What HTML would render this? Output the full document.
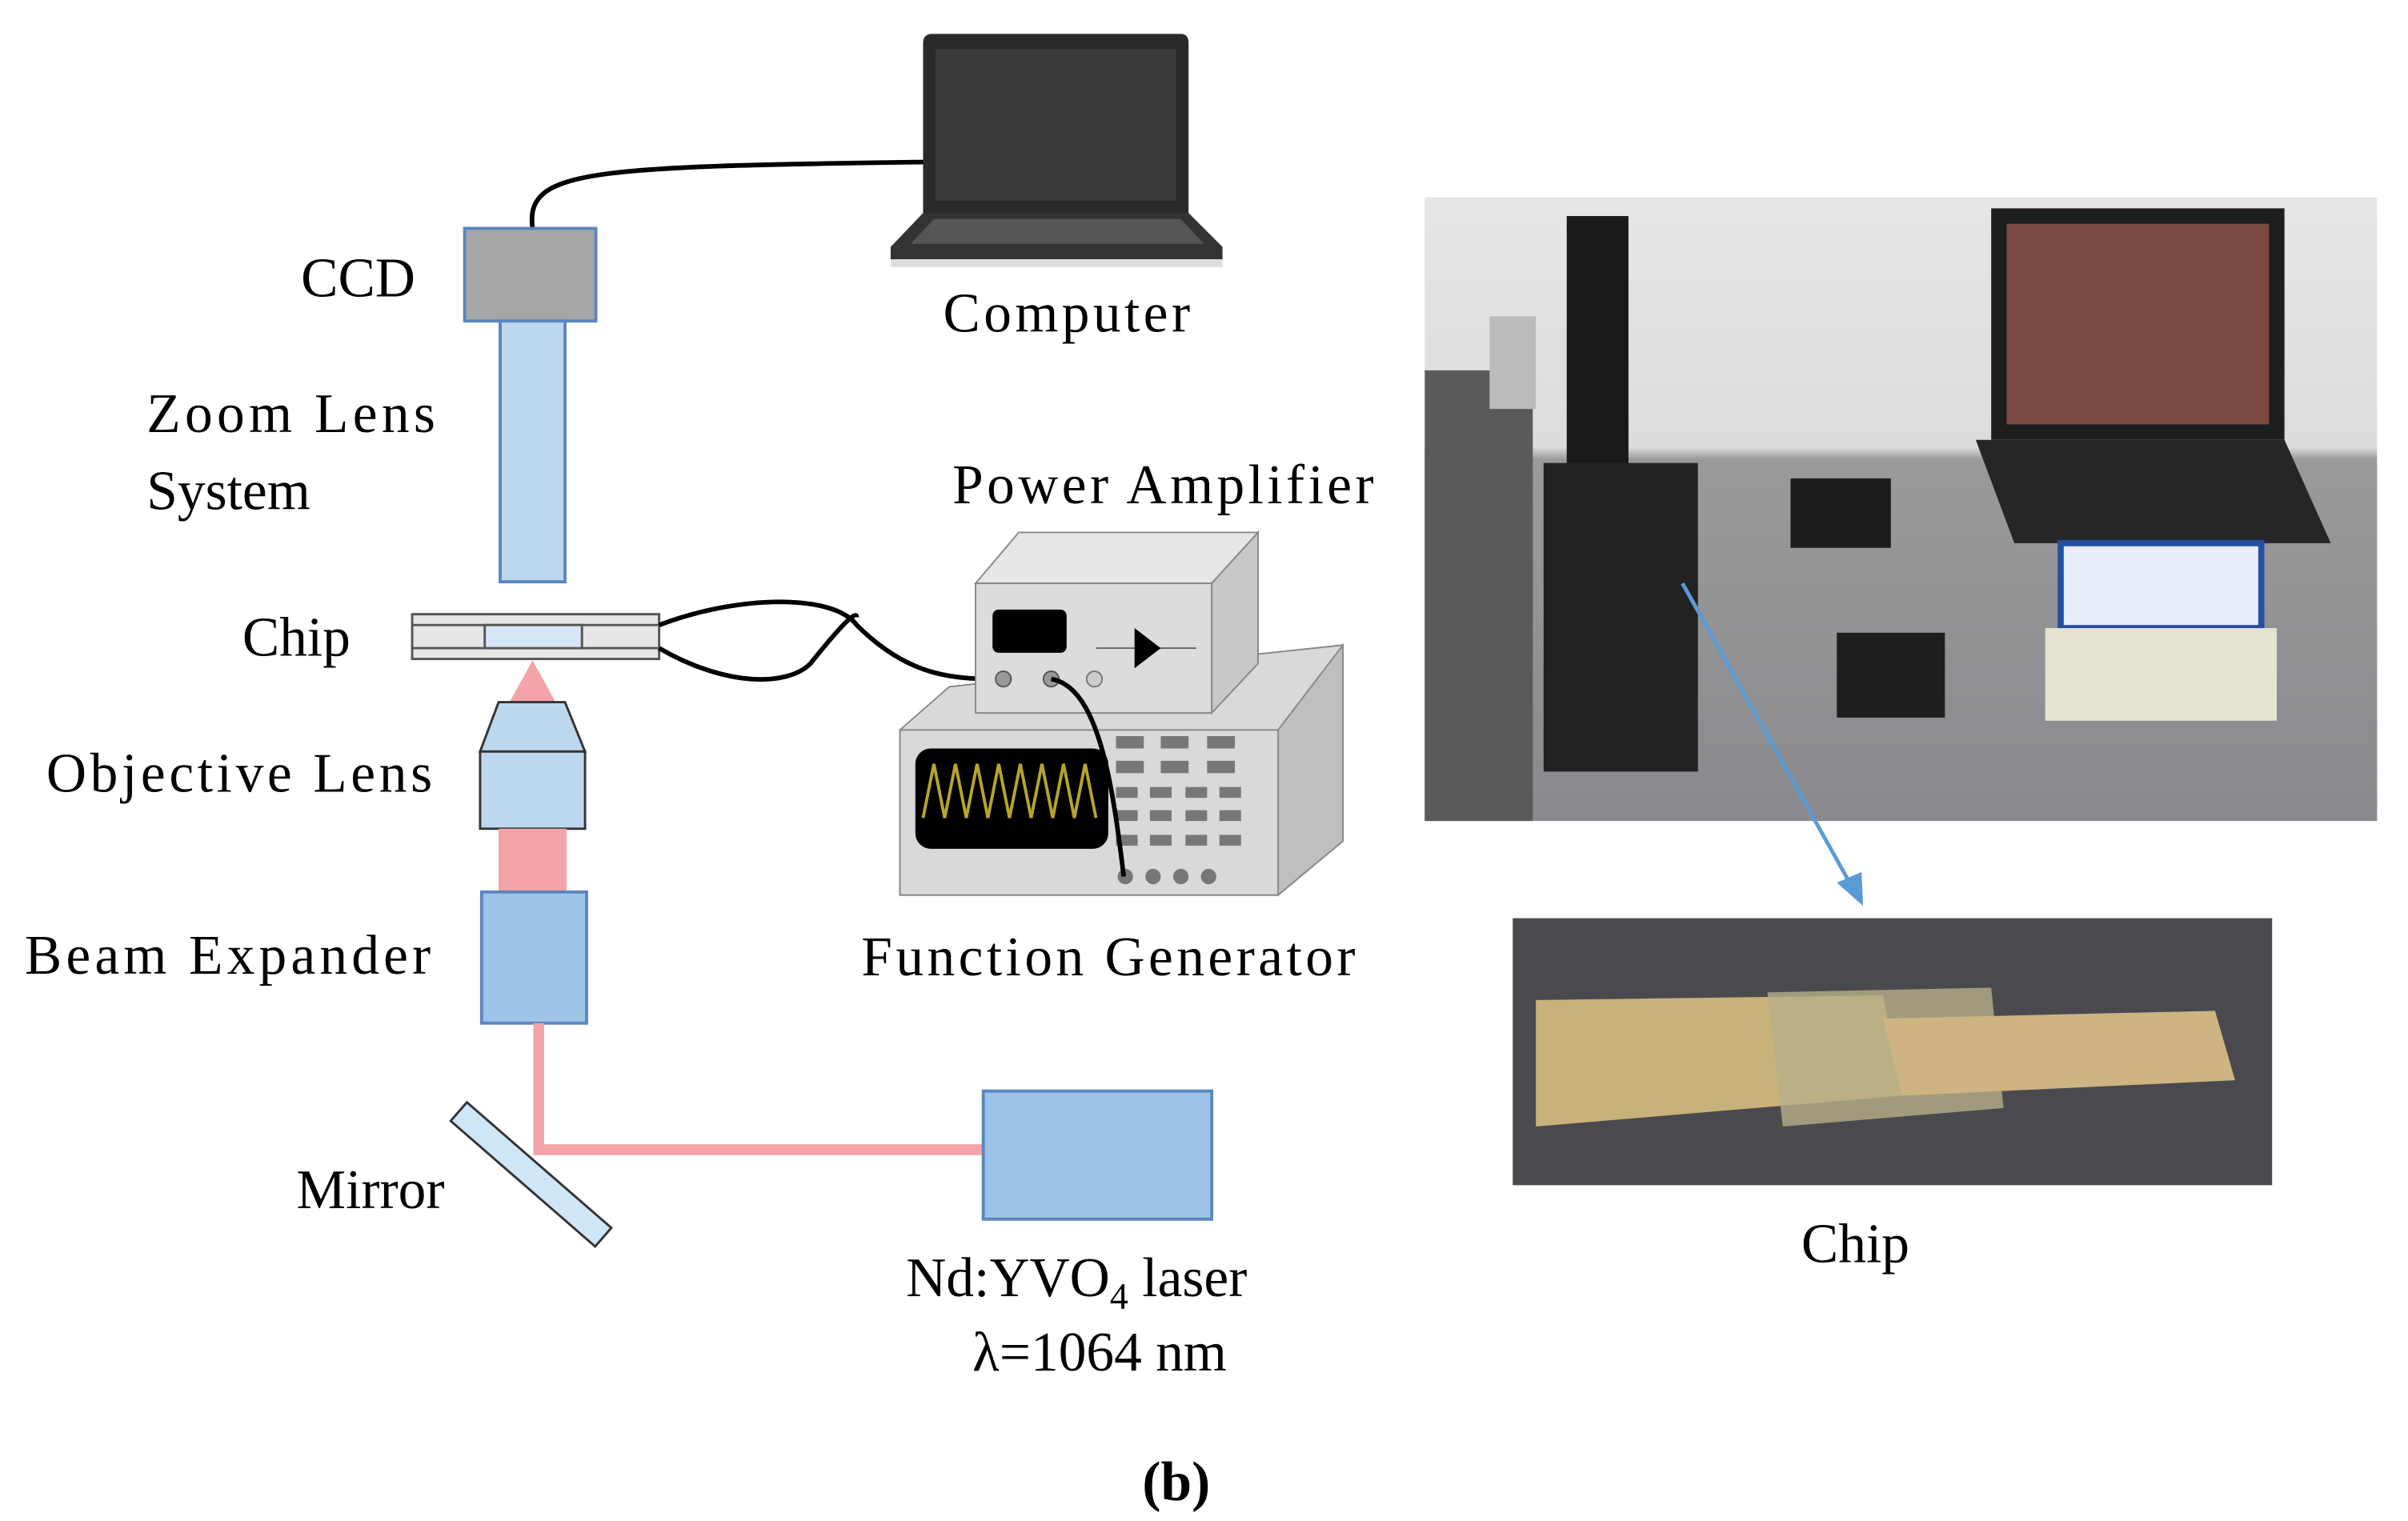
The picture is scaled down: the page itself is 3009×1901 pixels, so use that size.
<!DOCTYPE html>
<html><head><meta charset="utf-8"><style>html,body{margin:0;padding:0;background:#fff}svg{display:block}</style></head>
<body>
<svg width="3009" height="1901" viewBox="0 0 1560 985.6" xmlns="http://www.w3.org/2000/svg" font-family="Liberation Serif, serif" font-size="36" fill="#000">
<rect width="1560" height="986" fill="#fff"/>
<!-- laptop -->
<path d="M604,22 L765,22 Q770,22 770,28 L770,140 L598,140 L598,28 Q598,22 604,22Z" fill="#2a2a2a"/>
<rect x="606" y="32" width="156" height="98" fill="#3a3a3a"/>
<path d="M598,138 L770,138 L792,160 L792,168 L577,168 L577,160Z" fill="#333"/>
<path d="M605,142 L765,142 L780,158 L590,158Z" fill="#555"/>
<rect x="577" y="168" width="215" height="5" fill="#ddd"/>
<!-- CCD cable -->
<path d="M345,148 C340,110 380,108 598,105" fill="none" stroke="#000" stroke-width="3"/>
<!-- CCD -->
<rect x="301" y="148" width="85" height="60" fill="#a6a6a6" stroke="#5b85bd" stroke-width="2"/>
<rect x="324" y="208" width="42" height="169" fill="#bdd7ee" stroke="#5b85bd" stroke-width="2"/>
<!-- chip -->
<rect x="267" y="398" width="160" height="29" fill="#e6e6e6" stroke="#555" stroke-width="1.5"/>
<line x1="267" y1="405" x2="427" y2="405" stroke="#555" stroke-width="1.5"/>
<line x1="267" y1="420" x2="427" y2="420" stroke="#555" stroke-width="1.5"/>
<rect x="314" y="405" width="63" height="15" fill="#d6e6f7" stroke="#555" stroke-width="1.5"/>
<!-- chip wires -->
<path d="M427,405 C480,385 540,385 555,405 C590,440 620,440 650,440" fill="none" stroke="#000" stroke-width="3"/>
<path d="M427,420 C470,445 510,445 525,430 C545,405 555,395 555,400" fill="none" stroke="#000" stroke-width="3"/>
<!-- beam triangle -->
<path d="M345,428 L330,455 L360,455Z" fill="#f4a3a8"/>
<!-- objective -->
<path d="M323,455 L366,455 L379,487 L311,487Z" fill="#bdd7ee" stroke="#333" stroke-width="1.5"/>
<rect x="311" y="487" width="68" height="50" fill="#bdd7ee" stroke="#333" stroke-width="1.5"/>
<rect x="323" y="537" width="44" height="41" fill="#f4a3a8"/>
<rect x="312" y="578" width="68" height="85" fill="#9dc3e6" stroke="#5b85bd" stroke-width="2"/>
<!-- thin beam -->
<path d="M349,663 L349,745 L637,745" fill="none" stroke="#f4a3a8" stroke-width="7"/>
<!-- mirror -->
<rect x="282" y="753" width="124" height="16" fill="#cfe6f7" stroke="#333" stroke-width="1.5" transform="rotate(41 344 761)"/>
<!-- laser -->
<rect x="637" y="707" width="148" height="83" fill="#9dc3e6" stroke="#5b85bd" stroke-width="2"/>
<!-- function generator -->
<path d="M583,473 L615,445 L870,418 L870,545 L828,580 L583,580Z" fill="#d9d9d9" stroke="#888" stroke-width="1"/>
<path d="M828,473 L870,418 L870,545 L828,580Z" fill="#bfbfbf" stroke="#888"/>
<rect x="583" y="473" width="245" height="107" fill="#d9d9d9" stroke="#888"/>
<rect x="593" y="485" width="125" height="65" rx="10" fill="#000"/>
<path d="M598,530 L605,495 L612,530 L619,495 L626,530 L633,495 L640,530 L647,495 L654,530 L661,495 L668,530 L675,495 L682,530 L689,495 L696,530 L703,495 L710,530" fill="none" stroke="#b7a52a" stroke-width="2"/>
<g fill="#777">
<rect x="723" y="477" width="18" height="8"/><rect x="752" y="477" width="18" height="8"/><rect x="782" y="477" width="18" height="8"/>
<rect x="723" y="493" width="18" height="8"/><rect x="752" y="493" width="18" height="8"/><rect x="782" y="493" width="18" height="8"/>
<rect x="723" y="510" width="14" height="7"/><rect x="745" y="510" width="14" height="7"/><rect x="768" y="510" width="14" height="7"/><rect x="790" y="510" width="14" height="7"/>
<rect x="723" y="525" width="14" height="7"/><rect x="745" y="525" width="14" height="7"/><rect x="768" y="525" width="14" height="7"/><rect x="790" y="525" width="14" height="7"/>
<rect x="723" y="541" width="14" height="7"/><rect x="745" y="541" width="14" height="7"/><rect x="768" y="541" width="14" height="7"/><rect x="790" y="541" width="14" height="7"/>
<circle cx="729" cy="568" r="5"/><circle cx="747" cy="568" r="5"/><circle cx="765" cy="568" r="5"/><circle cx="783" cy="568" r="5"/>
</g>
<!-- power amplifier -->
<path d="M632,378 L660,345 L815,345 L785,378Z" fill="#e6e6e6" stroke="#888"/>
<path d="M785,378 L815,345 L815,430 L785,462Z" fill="#c8c8c8" stroke="#888"/>
<rect x="632" y="378" width="153" height="84" fill="#dcdcdc" stroke="#888"/>
<rect x="643" y="395" width="48" height="28" rx="4" fill="#000"/>
<line x1="710" y1="420" x2="775" y2="420" stroke="#666"/>
<path d="M735,407 L752,420 L735,433Z" fill="#000"/>
<circle cx="650" cy="440" r="5" fill="#999" stroke="#555"/><circle cx="681" cy="440" r="5" fill="#999" stroke="#555"/><circle cx="709" cy="440" r="5" fill="#ccc" stroke="#777"/>
<path d="M681,440 C710,445 720,500 728,568" fill="none" stroke="#000" stroke-width="3"/>
<!-- labels -->
<text x="195" y="192">CCD</text>
<text x="95" y="280" textLength="187">Zoom Lens</text>
<text x="95" y="330">System</text>
<text x="157" y="425">Chip</text>
<text x="30" y="513" textLength="250">Objective Lens</text>
<text x="16" y="631" textLength="263">Beam Expander</text>
<text x="192" y="783">Mirror</text>
<text x="611" y="215" textLength="160">Computer</text>
<text x="617" y="326" textLength="273">Power Amplifier</text>
<text x="558" y="632" textLength="320">Function Generator</text>
<text x="587" y="840">Nd:YVO<tspan font-size="24" dy="8">4</tspan><tspan dy="-8"> laser</tspan></text>
<text x="630" y="888">λ=1064 nm</text>
<text x="740" y="972" font-weight="bold">(b)</text>
<!-- photo -->
<defs>
<linearGradient id="ph" x1="0" y1="0" x2="0" y2="1">
<stop offset="0" stop-color="#e6e6e4"/><stop offset="0.4" stop-color="#dcdcda"/><stop offset="0.42" stop-color="#9a9a9c"/><stop offset="1" stop-color="#8a8a8e"/>
</linearGradient>
</defs>
<rect x="923" y="128" width="617" height="404" fill="url(#ph)"/>
<rect x="923" y="240" width="70" height="292" fill="#5a5a5a"/>
<rect x="1015" y="140" width="40" height="190" fill="#1a1a1a"/>
<rect x="1000" y="300" width="100" height="200" fill="#222"/>
<rect x="965" y="205" width="30" height="60" fill="#bbb"/>
<rect x="1290" y="135" width="190" height="150" fill="#1e1e1e"/>
<rect x="1300" y="145" width="170" height="130" fill="#7a4a42"/>
<path d="M1280,285 L1480,285 L1510,352 L1305,352Z" fill="#262626"/>
<rect x="1335" y="352" width="130" height="55" fill="#e8eef8" stroke="#2450a0" stroke-width="4"/>
<rect x="1325" y="407" width="150" height="60" fill="#e6e2d2"/>
<rect x="1160" y="310" width="65" height="45" fill="#1c1c1c"/>
<rect x="1190" y="410" width="70" height="55" fill="#1e1e1e"/>
<!-- arrow -->
<line x1="1090" y1="378" x2="1200" y2="575" stroke="#5b9bd5" stroke-width="2.5"/>
<path d="M1207,587 L1190,572 L1206,565Z" fill="#5b9bd5"/>
<!-- chip photo -->
<rect x="980" y="595" width="492" height="173" fill="#4a4a4e"/>
<path d="M995,648 L1220,645 L1232,710 L995,730Z" fill="#c8b27a"/>
<path d="M1145,643 L1290,640 L1298,718 L1155,730Z" fill="#b8ae8a" opacity="0.8"/>
<path d="M1220,660 L1435,655 L1448,700 L1232,710Z" fill="#cdb482"/>
<text x="1167" y="818">Chip</text>
</svg>
</body></html>
